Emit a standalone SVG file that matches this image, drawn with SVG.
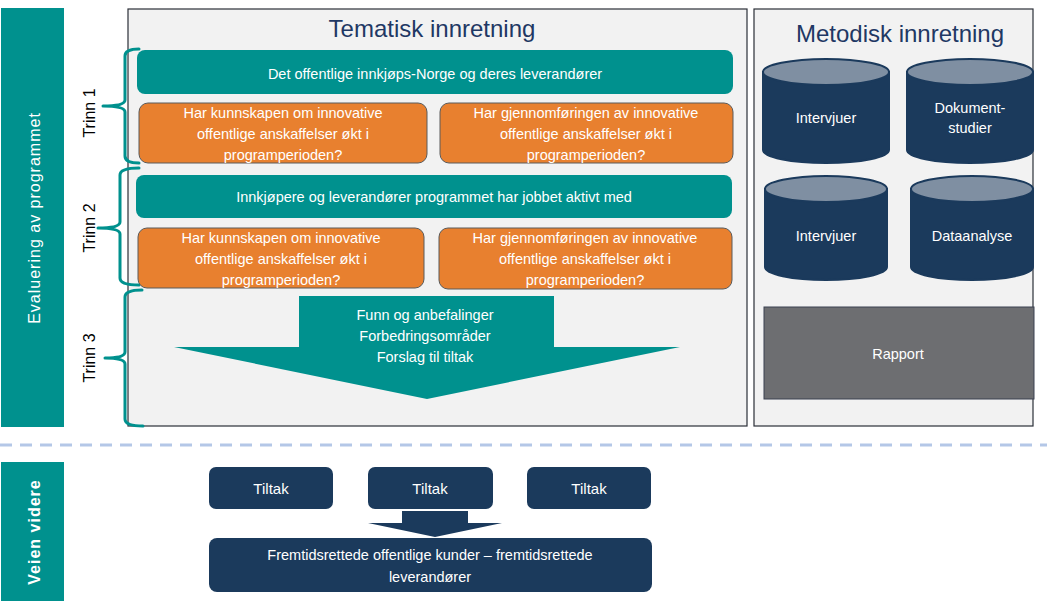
<svg xmlns="http://www.w3.org/2000/svg" width="1047" height="601" viewBox="0 0 1047 601">
<style>
.t{font-family:"Liberation Sans",Arial,sans-serif;fill:#fff;text-anchor:middle}
.title{font-family:"Liberation Sans",Arial,sans-serif;fill:#1F3864;font-size:24px;text-anchor:middle}
.teal{fill:#00918E}
.org{fill:#E8802F;stroke:#5a5a5a;stroke-width:1}
.navy{fill:#1B3A5C}
.brace{fill:none;stroke:#00918E;stroke-width:3;stroke-linejoin:round;stroke-linecap:round}
.cyl{fill:#1B3A5C;stroke:#1B3A5C;stroke-width:2}
.cyltop{fill:#7F8FA2;stroke:#1B3A5C;stroke-width:2}
.vl{font-family:"Liberation Sans",Arial,sans-serif;font-size:16px;text-anchor:middle}
</style>
<rect width="1047" height="601" fill="#fff"/>
<g id="side-eval">
<rect x="1" y="8" width="63" height="419" class="teal"/>
<text class="t" font-size="16" letter-spacing="1" transform="translate(40,218) rotate(-90)">Evaluering av programmet</text>
</g>
<g id="trinn-labels">
<text class="vl" transform="translate(95,113) rotate(-90)">Trinn 1</text>
<text class="vl" transform="translate(95,228) rotate(-90)">Trinn 2</text>
<text class="vl" transform="translate(95,358) rotate(-90)">Trinn 3</text>
</g>
<g id="tematisk">
<rect x="128" y="9" width="619" height="417" fill="#F2F2F2" stroke="#2b2f38" stroke-width="1.2"/>
<text class="title" x="432" y="37">Tematisk innretning</text>
</g>
<g id="braces">
<path class="brace" d="M139,49 Q125,49 125,56 L125,100 Q125,106 103,106 Q125,106 125,112 L125,156 Q125,163 139,163"/>
<path class="brace" d="M139,168 Q120,168 120,175 L120,222 Q120,228 98,228 Q120,228 120,234 L120,278 Q120,285 139,285"/>
<path class="brace" d="M142,290 Q125,290 125,297 L125,352 Q125,358 105,358 Q125,358 125,364 L125,419 Q125,426 143,426"/>
</g>
<g id="banner1">
<rect x="137" y="50" width="596" height="44" rx="8" class="teal"/>
<text class="t" x="435" y="79" font-size="14.5">Det offentlige innkjøps-Norge og deres leverandører</text>
</g>
<g id="q1a">
<rect x="139" y="103" width="288" height="60" rx="9" class="org"/>
<text class="t" font-size="14.5"><tspan x="283" y="118">Har kunnskapen om innovative</tspan><tspan x="283" y="139">offentlige anskaffelser økt i</tspan><tspan x="283" y="160">programperioden?</tspan></text>
</g>
<g id="q1b">
<rect x="440" y="103" width="293" height="60" rx="9" class="org"/>
<text class="t" font-size="14.5"><tspan x="586" y="118">Har gjennomføringen av innovative</tspan><tspan x="586" y="139">offentlige anskaffelser økt i</tspan><tspan x="586" y="160">programperioden?</tspan></text>
</g>
<g id="banner2">
<rect x="136" y="175" width="596" height="43" rx="8" class="teal"/>
<text class="t" x="434" y="202" font-size="14.5">Innkjøpere og leverandører programmet har jobbet aktivt med</text>
</g>
<g id="q2a">
<rect x="138" y="228" width="286" height="60" rx="9" class="org"/>
<text class="t" font-size="14.5"><tspan x="281" y="243">Har kunnskapen om innovative</tspan><tspan x="281" y="264">offentlige anskaffelser økt i</tspan><tspan x="281" y="285">programperioden?</tspan></text>
</g>
<g id="q2b">
<rect x="439" y="228" width="293" height="61" rx="9" class="org"/>
<text class="t" font-size="14.5"><tspan x="585" y="243">Har gjennomføringen av innovative</tspan><tspan x="585" y="264">offentlige anskaffelser økt i</tspan><tspan x="585" y="285">programperioden?</tspan></text>
</g>
<g id="findings">
<polygon points="299,296 554,296 554,347 680,347 427,399 174,347 299,347" class="teal"/>
<text class="t" font-size="14.5"><tspan x="425" y="320">Funn og anbefalinger</tspan><tspan x="425" y="341">Forbedringsområder</tspan><tspan x="425" y="362">Forslag til tiltak</tspan></text>
</g>
<g id="metodisk">
<rect x="754" y="9" width="279" height="417" fill="#F2F2F2" stroke="#2b2f38" stroke-width="1.2"/>
<text class="title" x="900" y="42">Metodisk innretning</text>
</g>
<g id="cyl1">
<path class="cyl" d="M763,72 L763,150 A63,13 0 0 0 889,150 L889,72 Z"/>
<ellipse class="cyltop" cx="826" cy="72" rx="63" ry="13"/>
<text class="t" x="826" y="123" font-size="14.5">Intervjuer</text>
</g>
<g id="cyl2">
<path class="cyl" d="M907,72 L907,150 A63,13 0 0 0 1033,150 L1033,72 Z"/>
<ellipse class="cyltop" cx="970" cy="72" rx="63" ry="13"/>
<text class="t" font-size="14.5"><tspan x="970" y="113">Dokument-</tspan><tspan x="970" y="133">studier</tspan></text>
</g>
<g id="cyl3">
<path class="cyl" d="M765,189 L765,267 A61,13 0 0 0 887,267 L887,189 Z"/>
<ellipse class="cyltop" cx="826" cy="189" rx="61" ry="13"/>
<text class="t" x="826" y="241" font-size="14.5">Intervjuer</text>
</g>
<g id="cyl4">
<path class="cyl" d="M911,189 L911,267 A61,13 0 0 0 1033,267 L1033,189 Z"/>
<ellipse class="cyltop" cx="972" cy="189" rx="61" ry="13"/>
<text class="t" x="972" y="241" font-size="14.5">Dataanalyse</text>
</g>
<g id="rapport">
<rect x="764" y="307" width="270" height="92" fill="#6D6E71" stroke="#3a4150" stroke-width="1"/>
<text class="t" x="898" y="359" font-size="14.5">Rapport</text>
</g>
<g id="divider">
<line x1="0" y1="445" x2="1047" y2="445" stroke="#B4C7E7" stroke-width="3" stroke-dasharray="12,8"/>
</g>
<g id="side-veien">
<rect x="1" y="462" width="63" height="139" class="teal"/>
<text class="t" font-size="16" font-weight="bold" letter-spacing="1" transform="translate(40,532) rotate(-90)">Veien videre</text>
</g>
<g id="tiltak1">
<rect x="209" y="467" width="124" height="42" rx="7" class="navy"/>
<text class="t" x="271" y="494" font-size="15">Tiltak</text>
</g>
<g id="tiltak2">
<rect x="368" y="467" width="125" height="42" rx="7" class="navy"/>
<text class="t" x="430" y="494" font-size="15">Tiltak</text>
</g>
<g id="tiltak3">
<rect x="527" y="467" width="124" height="42" rx="7" class="navy"/>
<text class="t" x="589" y="494" font-size="15">Tiltak</text>
</g>
<g id="connectors">
<polygon points="402,511 468,511 468,523 502,523 435,537 368,523 402,523" class="navy"/>
</g>
<g id="fremtid">
<rect x="209" y="538" width="443" height="54" rx="8" class="navy"/>
<text class="t" font-size="14.5"><tspan x="430" y="560">Fremtidsrettede offentlige kunder – fremtidsrettede</tspan><tspan x="430" y="582">leverandører</tspan></text>
</g>
</svg>
